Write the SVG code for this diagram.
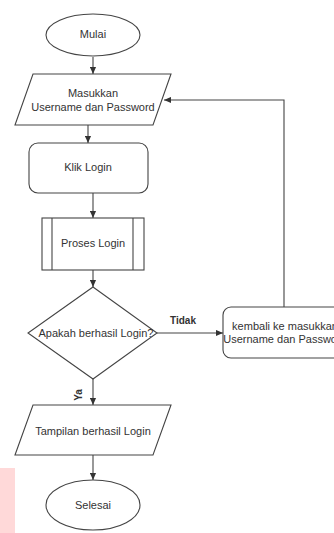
<svg xmlns="http://www.w3.org/2000/svg" width="334" height="533" viewBox="0 0 334 533">
<defs>
<marker id="arr" viewBox="0 0 8 8" refX="8" refY="4" markerWidth="7" markerHeight="7" markerUnits="userSpaceOnUse" orient="auto"><path d="M0,0.5 L8,4 L0,7.5 z" fill="#333"/></marker>
</defs>
<style>
.s{fill:#fff;stroke:#444;stroke-width:1.1}
.t{font-family:"Liberation Sans",Arial,sans-serif;font-size:11px;fill:#333;text-anchor:middle;dominant-baseline:central}
.b{font-family:"Liberation Sans",Arial,sans-serif;font-size:10px;font-weight:bold;fill:#333;text-anchor:middle;dominant-baseline:central}
.c{fill:none;stroke:#444;stroke-width:1.1}
</style>
<rect width="334" height="533" fill="#fff"/>
<rect x="0" y="468" width="15" height="65" fill="#ffd9d9"/>
<g id="connectors">
<line class="c" x1="93" y1="57" x2="93" y2="74" marker-end="url(#arr)"/>
<line class="c" x1="88" y1="125" x2="88" y2="143" marker-end="url(#arr)"/>
<line class="c" x1="93" y1="193" x2="93" y2="218" marker-end="url(#arr)"/>
<line class="c" x1="93" y1="270" x2="93" y2="287" marker-end="url(#arr)"/>
<line class="c" x1="157" y1="333" x2="223" y2="333" marker-end="url(#arr)"/>
<polyline class="c" points="284,307 284,100 164,100" marker-end="url(#arr)"/>
<line class="c" x1="93" y1="379" x2="93" y2="405" marker-end="url(#arr)"/>
<line class="c" x1="93" y1="455" x2="93" y2="480" marker-end="url(#arr)"/>
<text class="b" x="183" y="320">Tidak</text>
<text class="b" x="78" y="395" transform="rotate(-90 78 395)">Ya</text>
</g>
<g id="mulai">
<ellipse class="s" cx="93" cy="35" rx="47" ry="21"/>
<text class="t" x="93" y="34">Mulai</text>
</g>
<g id="masukkan">
<polygon class="s" points="33,74 171,74 153,125 15,125"/>
<text class="t" x="93" y="93">Masukkan</text>
<text class="t" x="93" y="107">Username dan Password</text>
</g>
<g id="klik">
<rect class="s" x="29" y="143" width="119" height="50" rx="9"/>
<text class="t" x="88" y="167">Klik Login</text>
</g>
<g id="proses">
<rect class="s" x="42" y="218" width="102" height="52"/>
<line class="s" x1="52" y1="218" x2="52" y2="270"/>
<line class="s" x1="133" y1="218" x2="133" y2="270"/>
<text class="t" x="93" y="243">Proses Login</text>
</g>
<g id="decision">
<polygon class="s" points="93,287 157,333 93,379 28,333"/>
<text class="t" x="96" y="333">Apakah berhasil Login?</text>
</g>
<g id="kembali">
<rect class="s" x="223" y="307" width="125" height="51" rx="8"/>
<text class="t" x="285" y="326">kembali ke masukkan</text>
<text class="t" x="285" y="339">Username dan Password</text>
</g>
<g id="tampilan">
<polygon class="s" points="33,405 171,405 153,455 15,455"/>
<text class="t" x="93" y="431">Tampilan berhasil Login</text>
</g>
<g id="selesai">
<ellipse class="s" cx="93" cy="505" rx="47" ry="25"/>
<text class="t" x="93" y="505">Selesai</text>
</g>
</svg>
